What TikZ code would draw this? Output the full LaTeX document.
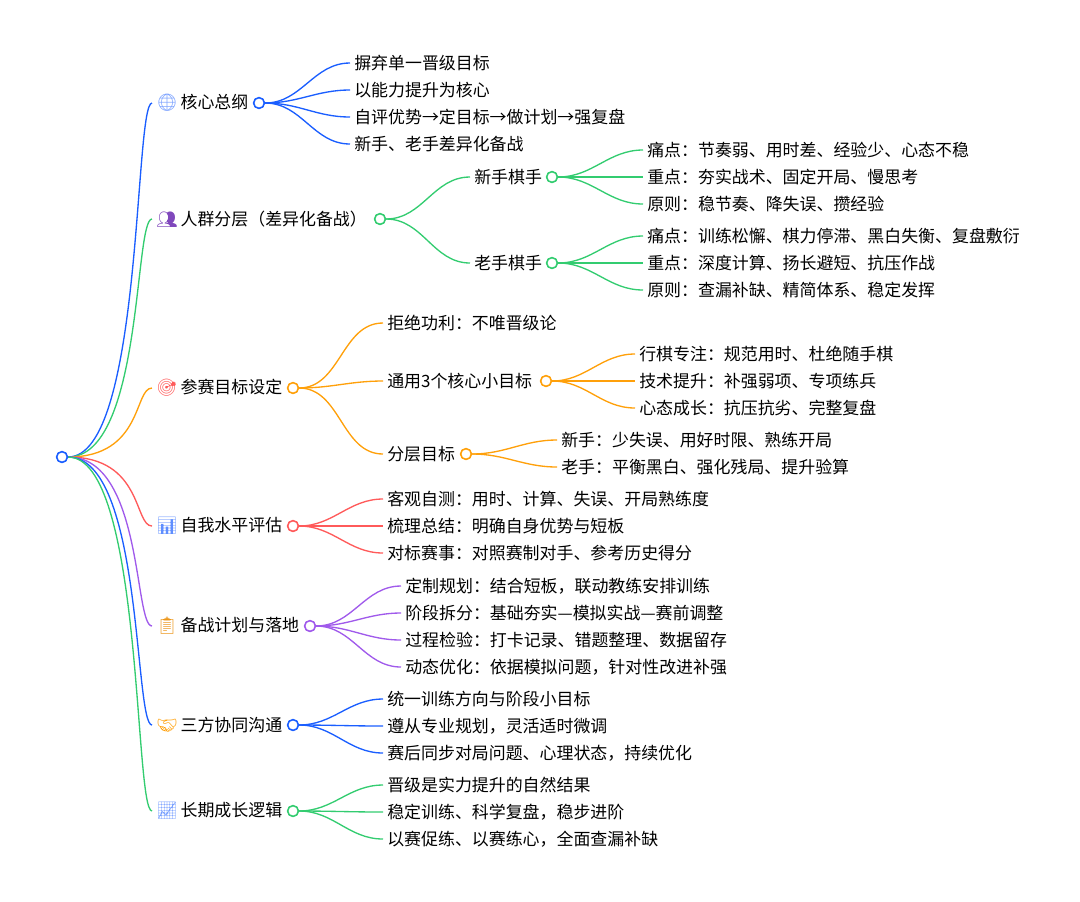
\documentclass[tikz,border=0pt]{standalone}
\usepackage{fontspec}
\setmainfont{Noto Sans CJK SC}
\newfontfamily\emo{Noto Emoji}
\definecolor{cb}{HTML}{1A5EFF}
\definecolor{cg}{HTML}{33CC70}
\definecolor{co}{HTML}{FFA00A}
\definecolor{cr}{HTML}{FF5A5A}
\definecolor{cp}{HTML}{A05AEB}
\begin{document}
\begin{tikzpicture}[x=0.75pt,y=-0.75pt,
 txt/.style={anchor=west,inner sep=3pt,font=\fontsize{12.7}{14}\selectfont},
 dot/.style={circle,draw=#1,fill=white,line width=1.1pt,minimum size=8pt,inner sep=0},
 ln/.style={draw=#1,line width=1pt}]
\useasboundingbox (0,0) rectangle (1080,901);
\newcommand\br[3]{\draw[ln=#1] (#2) to[out=0,in=180] (#3.west);}
\newcommand\rb[2]{\draw[ln=#1] (root.east) .. controls +(75,0) and +(-18,0) .. (#2.west);}
\node[dot=cb] (root) at (62,457) {};
% level 1
\node[txt] (a) at (152,103) {{\emo\textcolor{cb!60}{🌐}}\,核心总纲};
\node[dot=cb] (ac) at (259,103) {};
\node[txt] (b) at (152,219) {{\emo\textcolor{cp!80!black}{👥}}\,人群分层（差异化备战）};
\node[dot=cg] (bc) at (380,219) {};
\node[txt] (c) at (152,388) {{\emo\textcolor{cr}{🎯}}\,参赛目标设定};
\node[dot=co] (cc) at (293,388) {};
\node[txt] (d) at (152,526) {{\emo\textcolor{cb!70}{📊}}\,自我水平评估};
\node[dot=cr] (dc) at (293,526) {};
\node[txt] (e) at (152,626) {{\emo\textcolor{co!70!brown}{📋}}\,备战计划与落地};
\node[dot=cp] (ec) at (310,626) {};
\node[txt] (f) at (152,725) {{\emo\textcolor{co}{🤝}}\,三方协同沟通};
\node[dot=cb] (fc) at (293,725) {};
\node[txt] (g) at (152,811) {{\emo\textcolor{cb!60}{📈}}\,长期成长逻辑};
\node[dot=cg] (gc) at (293,811) {};
\rb{cb}{a}\rb{cg}{b}\rb{co}{c}\rb{cr}{d}\rb{cp}{e}\rb{cb}{f}\rb{cg}{g}
\node[dot=cb] at (root) {};
% a
\node[txt] (a1) at (350,63) {摒弃单一晋级目标};
\node[txt] (a2) at (350,90) {以能力提升为核心};
\node[txt] (a3) at (350,117) {自评优势→定目标→做计划→强复盘};
\node[txt] (a4) at (350,144) {新手、老手差异化备战};
\foreach \t in {a1,a2,a3,a4}{\br{cb}{ac.east}{\t}}
% b
\node[txt] (b1) at (470,177) {新手棋手};
\node[dot=cg] (b1c) at (552,177) {};
\node[txt] (b2) at (470,263) {老手棋手};
\node[dot=cg] (b2c) at (552,263) {};
\br{cg}{bc.east}{b1}\br{cg}{bc.east}{b2}
\node[txt] (b11) at (643,150) {痛点：节奏弱、用时差、经验少、心态不稳};
\node[txt] (b12) at (643,177) {重点：夯实战术、固定开局、慢思考};
\node[txt] (b13) at (643,204) {原则：稳节奏、降失误、攒经验};
\node[txt] (b21) at (643,236) {痛点：训练松懈、棋力停滞、黑白失衡、复盘敷衍};
\node[txt] (b22) at (643,263) {重点：深度计算、扬长避短、抗压作战};
\node[txt] (b23) at (643,290) {原则：查漏补缺、精简体系、稳定发挥};
\foreach \t in {b11,b12,b13}{\br{cg}{b1c.east}{\t}}
\foreach \t in {b21,b22,b23}{\br{cg}{b2c.east}{\t}}
% c
\node[txt] (c1) at (383,323) {拒绝功利：不唯晋级论};
\node[txt] (c2) at (383,381) {通用3个核心小目标};
\node[dot=co] (c2c) at (546,381) {};
\node[txt] (c3) at (383,454) {分层目标};
\node[dot=co] (c3c) at (466,454) {};
\foreach \t in {c1,c2,c3}{\br{co}{cc.east}{\t}}
\node[txt] (c21) at (635,354) {行棋专注：规范用时、杜绝随手棋};
\node[txt] (c22) at (635,381) {技术提升：补强弱项、专项练兵};
\node[txt] (c23) at (635,408) {心态成长：抗压抗劣、完整复盘};
\foreach \t in {c21,c22,c23}{\br{co}{c2c.east}{\t}}
\node[txt] (c31) at (557,440) {新手：少失误、用好时限、熟练开局};
\node[txt] (c32) at (557,467) {老手：平衡黑白、强化残局、提升验算};
\foreach \t in {c31,c32}{\br{co}{c3c.east}{\t}}
% d
\node[txt] (d1) at (383,499) {客观自测：用时、计算、失误、开局熟练度};
\node[txt] (d2) at (383,526) {梳理总结：明确自身优势与短板};
\node[txt] (d3) at (383,553) {对标赛事：对照赛制对手、参考历史得分};
\foreach \t in {d1,d2,d3}{\br{cr}{dc.east}{\t}}
% e
\node[txt] (e1) at (401,586) {定制规划：结合短板，联动教练安排训练};
\node[txt] (e2) at (401,613) {阶段拆分：基础夯实—模拟实战—赛前调整};
\node[txt] (e3) at (401,640) {过程检验：打卡记录、错题整理、数据留存};
\node[txt] (e4) at (401,667) {动态优化：依据模拟问题，针对性改进补强};
\foreach \t in {e1,e2,e3,e4}{\br{cp}{ec.east}{\t}}
% f
\node[txt] (f1) at (383,699) {统一训练方向与阶段小目标};
\node[txt] (f2) at (383,726) {遵从专业规划，灵活适时微调};
\node[txt] (f3) at (383,753) {赛后同步对局问题、心理状态，持续优化};
\foreach \t in {f1,f2,f3}{\br{cb}{fc.east}{\t}}
% g
\node[txt] (g1) at (383,785) {晋级是实力提升的自然结果};
\node[txt] (g2) at (383,812) {稳定训练、科学复盘，稳步进阶};
\node[txt] (g3) at (383,839) {以赛促练、以赛练心，全面查漏补缺};
\foreach \t in {g1,g2,g3}{\br{cg}{gc.east}{\t}}
% redraw dots on top
\foreach \n/\c in {ac/cb,bc/cg,cc/co,dc/cr,ec/cp,fc/cb,gc/cg,b1c/cg,b2c/cg,c2c/co,c3c/co}{\node[dot=\c] at (\n) {};}
\end{tikzpicture}
\end{document}
